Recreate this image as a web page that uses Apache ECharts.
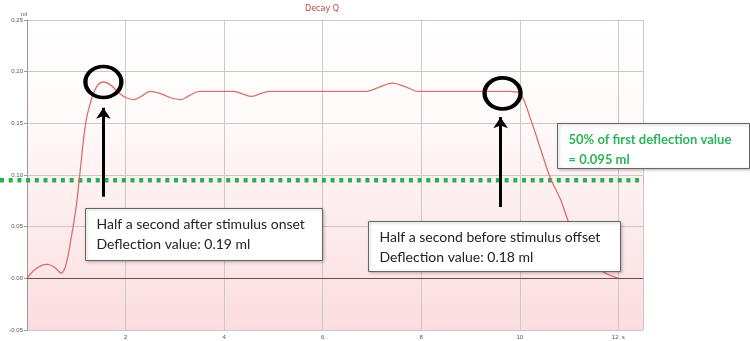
<!DOCTYPE html>
<html>
<head>
<meta charset="utf-8">
<script src="https://cdn.jsdelivr.net/npm/echarts@6/dist/echarts.min.js"></script>
<style>
  html, body { margin: 0; padding: 0; background: #fff; }
  #chart { width: 750px; height: 341px; }
</style>
</head>
<body>
<div id="chart"></div>
<script>
// curve samples (time in s, volume in ml)
const times = [0, 0.15, 0.3, 0.42, 0.55, 0.7, 0.8, 0.9, 1.0, 1.07, 1.19, 1.3, 1.42, 1.55, 1.7, 1.85, 2.0, 2.17, 2.35, 2.5, 2.7, 2.9, 3.12, 3.3, 3.5, 3.8, 4.2, 4.4, 4.55, 4.75, 4.95, 5.5, 6.0, 6.5, 6.9, 7.15, 7.42, 7.7, 7.93, 8.5, 9.0, 9.5, 9.8, 10.0, 10.22, 10.49, 10.63, 10.83, 10.97, 11.2, 11.45, 11.7, 12.0];
const values = [0, 0.008, 0.0125, 0.0135, 0.011, 0.005, 0.015, 0.04, 0.07, 0.1, 0.15, 0.172, 0.186, 0.19, 0.187, 0.18, 0.175, 0.173, 0.177, 0.181, 0.179, 0.175, 0.173, 0.177, 0.181, 0.181, 0.181, 0.178, 0.176, 0.179, 0.181, 0.181, 0.181, 0.181, 0.181, 0.185, 0.189, 0.185, 0.181, 0.181, 0.181, 0.181, 0.181, 0.179, 0.154, 0.115, 0.096, 0.076, 0.057, 0.032, 0.015, 0.006, 0];

const yTicks = [-0.05, 0, 0.05, 0.1, 0.15, 0.2, 0.25];
const xTicks = [2, 4, 6, 8, 10, 12];

// annotations
const halfLevel = 0.095;
const circlePoints = [[1.55, 0.19], [9.65, 0.179]];
const arrowX = [1.55, 9.61];
const arrowFrom = [0.079, 0.069];
const arrowTo = [0.165, 0.156];
const onsetText = ['Half a second after stimulus onset', 'Deflection value: 0.19 ml'];
const offsetText = ['Half a second before stimulus offset', 'Deflection value: 0.18 ml'];
const halfText = ['50% of first deflection value', '= 0.095 ml'];

const chart = echarts.init(document.getElementById('chart'));

const textBox = (left, top, w, h, lines, color, font) => ({
  type: 'group',
  left: left,
  top: top,
  children: [
    {
      type: 'rect',
      z: 100,
      shape: { width: w, height: h },
      style: { fill: '#fff', stroke: '#666', lineWidth: 1, shadowBlur: 3, shadowColor: 'rgba(0,0,0,0.25)', shadowOffsetX: 1, shadowOffsetY: 1 },
    },
    {
      type: 'text',
      z: 101,
      x: 11,
      y: 6,
      style: {
        text: lines.join('\n'),
        font: font,
        fill: color,
        lineHeight: 20,
      },
    },
  ],
});

const option = {
  animation: false,
  title: {
    text: 'Decay Q',
    left: 300,
    top: 0,
    textStyle: { fontSize: 8, fontWeight: 'normal', color: '#b54848', fontFamily: 'DejaVu Sans' },
  },
  grid: [
    {
      left: 27, right: 107, top: 20, bottom: 11,
      show: true,
      borderWidth: 0,
      backgroundColor: new echarts.graphic.LinearGradient(0, 0, 0, 1, [
        { offset: 0, color: '#ffffff' },
        { offset: 0.3, color: '#fffafa' },
        { offset: 1, color: '#fbdde0' },
      ]),
    },
    { left: 0, right: 106, top: 20, bottom: 11 },
  ],
  xAxis: [
    {
      type: 'value',
      min: 0,
      max: 12.5,
      interval: 2,
      axisLine: { show: true, lineStyle: { color: '#999' } },
      axisTick: { show: false },
      splitLine: { show: true, lineStyle: { color: '#cfc6c6' } },
      axisLabel: {
        fontSize: 6,
        color: '#555',
        margin: 4,
        formatter: (v) => (xTicks.includes(v) ? (v === 12 ? '12  s' : String(v)) : ''),
      },
    },
    { type: 'value', gridIndex: 1, min: 0, max: 1, show: false },
  ],
  yAxis: [
    {
      type: 'value',
      min: -0.05,
      max: 0.25,
      interval: 0.05,
      name: 'ml',
      nameGap: 2,
      nameTextStyle: { fontSize: 6, color: '#555', align: 'right' },
      axisLine: { show: true, lineStyle: { color: '#999' } },
      axisTick: { show: true, length: 3, lineStyle: { color: '#999' } },
      splitLine: { show: true, lineStyle: { color: '#cfc6c6' } },
      axisLabel: {
        fontSize: 6,
        color: '#555',
        margin: 4,
        formatter: (v) => {
          const t = yTicks.find((k) => Math.abs(k - v) < 1e-9);
          return t === undefined ? '' : t.toFixed(2);
        },
      },
    },
    { type: 'value', gridIndex: 1, min: -0.05, max: 0.25, show: false },
  ],
  series: [
    {
      type: 'line',
      xAxisIndex: 1,
      yAxisIndex: 1,
      data: [[0, halfLevel], [1, halfLevel]],
      symbol: 'none',
      z: 3,
      lineStyle: { color: '#23b14d', width: 4.5, type: [4, 4.7], cap: 'butt' },
    },
    {
      type: 'line',
      data: times.map((t, i) => [t, values[i]]),
      symbol: 'none',
      smooth: 0.35,
      z: 4,
      lineStyle: { color: '#d9706f', width: 1.3 },
      markLine: {
        silent: true,
        animation: false,
        symbol: ['none', 'none'],
        label: { show: false },
        data: [
          { yAxis: 0, lineStyle: { color: '#6e4c4c', width: 1.2, type: 'solid' } },
          ...arrowX.map((x, i) => [
            { coord: [x, arrowFrom[i]], lineStyle: { color: '#000', width: 3, type: 'solid' } },
            { coord: [x, arrowTo[i]], symbol: 'arrow', symbolSize: [11, 11] },
          ]),
        ],
      },
      markPoint: {
        silent: true,
        animation: false,
        symbol: 'circle',
        symbolSize: [36, 31],
        label: { show: false },
        itemStyle: { color: 'rgba(0,0,0,0)', borderColor: '#000', borderWidth: 4 },
        data: circlePoints.map((p) => ({ coord: p })),
      },
    },
  ],
  graphic: [
    textBox(85, 208, 237, 52, onsetText, '#222', '14px Lato'),
    textBox(368, 221, 252, 50, offsetText, '#222', '14px Lato'),
    textBox(557, 123, 192, 45, halfText, '#2db35a', 'bold 13px Lato'),
  ],
};

chart.setOption(option);
</script>
</body>
</html>
